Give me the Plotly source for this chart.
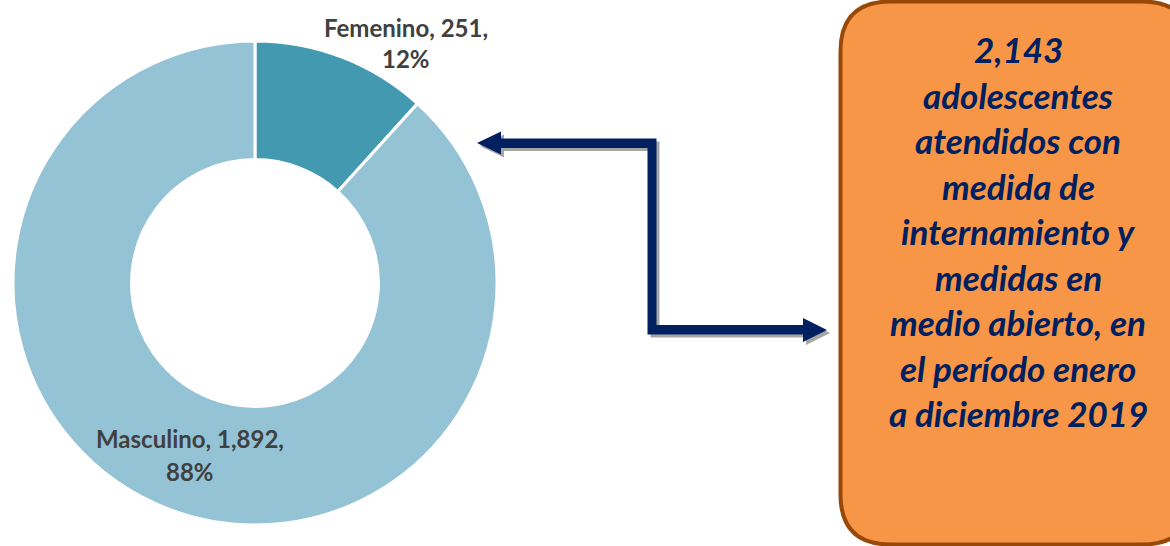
import plotly.graph_objects as go

# ---- data ----
categories = ["Femenino", "Masculino"]
values = [251, 1892]
colors = ["#4399B0", "#93C3D5"]
box_lines = ["2,143", "adolescentes", "atendidos con", "medida de",
             "internamiento y", "medidas en", "medio abierto, en",
             "el período enero", "a diciembre 2019"]

W, H = 1170, 546
total = sum(values)
pcts = [round(v / total * 100) for v in values]

fig = go.Figure()

# donut: centre (255, 283) px, radius 242 px
cx, cy, r = 255, 283, 242
fig.add_trace(go.Pie(
    labels=categories, values=values, sort=False, direction="clockwise",
    rotation=0, hole=0.51, textinfo="none", showlegend=False,
    marker=dict(colors=colors, line=dict(color="white", width=3)),
    domain=dict(x=[(cx - r) / W, (cx + r) / W],
                y=[1 - (cy + r) / H, 1 - (cy - r) / H]),
))

# data labels (two lines each)
label_pos = {"Femenino": (406, 27, 58), "Masculino": (190, 438, 471)}
lab_font = dict(family="Lato", size=24, color="#404040")
annotations = []
for cat, val, p in zip(categories, values, pcts):
    x, y1, y2 = label_pos[cat]
    annotations.append(dict(x=x, y=y1, xref="x", yref="y", showarrow=False,
                            text=f"<b>{cat}, {val:,},</b>", font=lab_font))
    annotations.append(dict(x=x, y=y2, xref="x", yref="y", showarrow=False,
                            text=f"<b>{p}%</b>", font=lab_font))

# orange box text
box_font = dict(family="Lato", size=35, color="#002060")
for i, line in enumerate(box_lines):
    annotations.append(dict(x=1018, y=49 + i * 45.5, xref="x", yref="y",
                            showarrow=False, text=f"<b><i>{line}</i></b>",
                            font=box_font))

# shapes: rounded box and double arrow
def rounded_rect(x0, y0, x1, y1, rr):
    return (f"M {x0+rr},{y0} L {x1-rr},{y0} Q {x1},{y0} {x1},{y0+rr} "
            f"L {x1},{y1-rr} Q {x1},{y1} {x1-rr},{y1} L {x0+rr},{y1} "
            f"Q {x0},{y1} {x0},{y1-rr} L {x0},{y0+rr} Q {x0},{y0} {x0+rr},{y0} Z")

arrow_pts = [(477, 143), (501, 131.5), (501, 138.5), (656.5, 138.5),
             (656.5, 325), (803, 325), (803, 318), (827, 330), (803, 342),
             (803, 334.5), (647.5, 334.5), (647.5, 148), (501, 148),
             (501, 154.5)]

def poly(pts, dx=0, dy=0):
    return "M " + " L ".join(f"{x+dx},{y+dy}" for x, y in pts) + " Z"

shapes = [
    dict(type="path", xref="x", yref="y", path=rounded_rect(840.5, 1.5, 1192, 544.5, 50),
         fillcolor="#F79646", line=dict(color="#984807", width=4)),
    dict(type="path", xref="x", yref="y", path=poly(arrow_pts, 3, 3),
         fillcolor="#A6A6A6", line=dict(width=0)),
    dict(type="path", xref="x", yref="y", path=poly(arrow_pts),
         fillcolor="#002060", line=dict(width=0)),
]

fig.update_layout(
    width=W, height=H, margin=dict(l=0, r=0, t=0, b=0),
    paper_bgcolor="white", plot_bgcolor="rgba(0,0,0,0)",
    xaxis=dict(range=[0, W], visible=False, fixedrange=True),
    yaxis=dict(range=[H, 0], visible=False, fixedrange=True),
    shapes=shapes, annotations=annotations,
)

fig.write_html(
    "out.html",
    config={"displayModeBar": False},
    post_script="document.body.style.margin='0';document.body.style.overflow='hidden';",
)
